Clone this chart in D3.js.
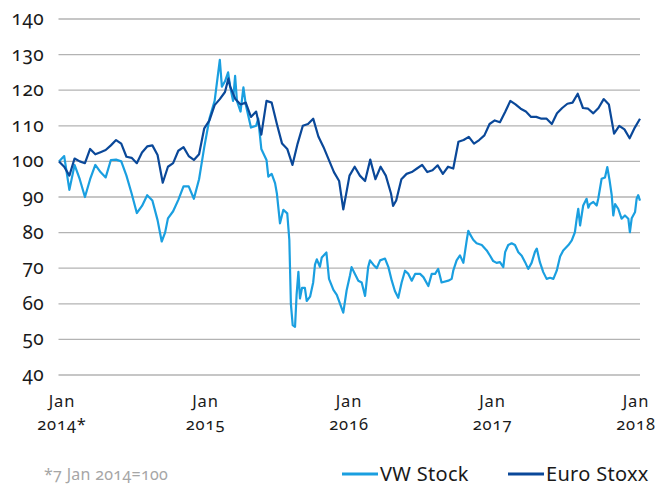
<!DOCTYPE html>
<html>
<head>
<meta charset="utf-8">
<script src="https://cdn.jsdelivr.net/npm/d3@7"></script>
<style>
  body { margin: 0; background: #fff; }
  svg { display: block; font-family: "Noto Sans", "Open Sans", sans-serif; font-variant-numeric: oldstyle-nums; font-feature-settings: "onum" 1; }
  .grid line { stroke: #b3b3b3; stroke-width: 1.3; }
  .lbl { fill: #1a1a1a; font-size: 19px; letter-spacing: 0.4px; }
  .xlbl { fill: #1a1a1a; font-size: 16.5px; letter-spacing: 0.9px; }
</style>
</head>
<body>
<div id="graph"></div>
<script>
var width = 657, height = 486;

// weeks since 7 Jan 2014 (index = 100 on that day)
var vwWeek = [0, 2, 4, 6, 8, 10, 12, 14, 16, 18, 20, 22, 24, 26, 28, 30, 32, 34, 36, 38, 39.6, 40.9, 42, 44, 46, 48, 50, 52, 54, 56, 58, 60, 62, 62.8, 64, 65.2, 66, 67.1, 67.9, 68.6, 70, 71.1, 72, 74, 76, 76.8, 78, 80, 80.7, 82, 83.3, 84, 85.2, 86.5, 88, 88.8, 89.4, 90.1, 91, 91.6, 92.3, 92.9, 93.7, 94.8, 95.5, 96.8, 98, 98.7, 99.4, 100.6, 101.3, 103.1, 104.1, 105.8, 107.1, 108.3, 109.6, 110.9, 112.2, 112.8, 114.1, 115.4, 116.7, 118, 119.2, 119.9, 121.2, 122.5, 123.8, 125.7, 127, 128.3, 129.5, 130.8, 132.1, 133.4, 134.7, 136, 137.3, 139.2, 140.5, 142.4, 143.7, 145, 146.2, 147.5, 150.1, 151.4, 152, 153.3, 154.6, 155.9, 157.2, 157.8, 158.5, 159.7, 161, 163, 164.9, 166.2, 167.4, 168.7, 170, 171.3, 172, 173.2, 174.5, 175.8, 177.1, 178.4, 179.7, 180.9, 182.2, 183.5, 184.2, 185.4, 186.7, 188, 189.3, 190.6, 191.9, 193.2, 194.4, 196.4, 197.7, 198.9, 199.6, 200.2, 200.9, 202.1, 203.4, 204.1, 204.7, 206, 207.3, 207.9, 209.2, 210.5, 211.4, 212.2, 213.1, 213.7, 214.4, 215.6, 216.9, 218.2, 219.5, 220.1, 220.8, 222.1, 222.7, 223.3, 224];
var vwValue = [100, 101.5, 92, 99, 95, 90, 95, 99, 97, 95.5, 100.4, 100.5, 100, 96, 91, 85.5, 87.5, 90.5, 89, 83.5, 77.5, 80, 84, 86, 89.2, 93, 93, 89.5, 95, 104, 112, 117, 128.5, 121, 122.5, 125, 121, 117, 124, 117, 114, 120.8, 116, 109.5, 110, 112, 103.5, 100.4, 95.7, 96.5, 93.9, 91, 82.6, 86.4, 85.4, 78, 60, 54, 53.5, 62.5, 69, 61.5, 64.5, 64.5, 60.8, 62, 66, 71, 72.5, 70.4, 73, 74.4, 67, 63.9, 62.5, 60.1, 57.5, 63.8, 68, 70.3, 68.4, 66.5, 66, 62.2, 70.3, 72.2, 71, 70, 72.2, 72.7, 70.3, 66.5, 63.6, 61.7, 66, 69.3, 68.4, 66.5, 68.4, 68.4, 67.5, 65, 68.4, 68.4, 69.8, 66, 66.5, 67, 69.3, 72.2, 73.6, 71.5, 77.9, 80.5, 79.5, 78, 77, 76.5, 75, 73.5, 72, 71.5, 71.7, 70.3, 74.5, 76.5, 77, 76.5, 74.5, 73.5, 71.7, 69.8, 71.5, 74.6, 75.5, 71.7, 68.9, 67, 67.3, 67, 69.3, 73.3, 75, 76.5, 77.8, 80.1, 83.9, 86.7, 82, 87.6, 89.5, 87, 88, 88.6, 87.6, 89.5, 95.1, 95.5, 98.4, 95, 90.5, 84.8, 88, 86.7, 83.9, 84.8, 83.9, 80.1, 84, 85.8, 89.5, 90.5, 89];

var euWeek = [0, 2, 4, 6, 8, 10, 12, 14, 16, 18, 20, 22, 24, 26, 28, 30, 32, 34, 36, 38, 40, 42, 44, 46, 48, 50, 52, 54, 56, 58, 60, 62, 64, 65.3, 66, 68, 70, 72, 74, 76, 78, 80, 82, 84, 86, 88, 90, 92, 94, 96, 98, 100, 102, 104, 106, 108, 109.6, 111, 112, 114, 116, 118, 120, 122, 124, 126, 128, 128.8, 130, 132, 134, 136, 138, 140, 142, 144, 146, 148, 150, 152, 154, 156, 158, 160, 162, 164, 166, 168, 170, 172, 174, 176, 178, 180, 182, 184, 186, 188, 190, 192, 194, 196, 198, 200, 202, 204, 206, 208, 210, 212, 214, 216, 218, 220, 222, 224];
var euValue = [100, 98.5, 96, 100.8, 100, 99.5, 103.5, 102, 102.6, 103.2, 104.5, 106, 105, 101.3, 101, 99.5, 102.5, 104.2, 104.5, 101.8, 94, 98.5, 99.5, 103, 104, 101.5, 100.4, 102, 109.3, 111.5, 115.8, 117.5, 119.5, 123.3, 121, 117.5, 116, 116.5, 112.5, 114, 107.5, 117, 116.5, 110.5, 105, 103.5, 99, 105, 110, 110.5, 112, 107, 104, 100.5, 97, 94.5, 86.5, 92, 96, 98.5, 96, 94.5, 100.5, 95, 98.5, 96, 91, 87.5, 89, 95, 96.5, 97, 98, 99, 97, 97.5, 98.9, 96.5, 98.5, 98, 105.5, 106, 106.9, 105, 106, 107.3, 110.5, 111.5, 111, 113.9, 117, 116, 114.8, 114, 112.5, 112.5, 112, 112, 110.5, 113.5, 115, 116.2, 116.5, 119, 115, 114.8, 113.5, 115, 117.5, 116, 107.8, 110, 109, 106.5, 109.5, 112];

var yTicks = [40, 50, 60, 70, 80, 90, 100, 110, 120, 130, 140];
var xLabels = [["Jan", "2014*"], ["Jan", "2015"], ["Jan", "2016"], ["Jan", "2017"], ["Jan", "2018"]];

var vwColor = "#1a9fe0", euColor = "#0a4899";

var svg = d3.select("#graph").append("svg")
    .attr("width", width)
    .attr("height", height);

var x = d3.scaleLinear().domain([0, 224]).range([59, 640]);
var y = d3.scaleLinear().domain([40, 140]).range([375, 19]);
// the year labels sit evenly spaced under the plot
var xl = d3.scalePoint().domain(xLabels.map((d, i) => i)).range([62, 636]);

// gridlines + y labels
svg.append("g")
    .attr("class", "grid")
    .selectAll("line")
    .data(yTicks)
    .enter().append("line")
    .attr("x1", 58.5).attr("x2", 640)
    .attr("y1", d => y(d)).attr("y2", d => y(d));

svg.append("g")
    .selectAll("text")
    .data(yTicks)
    .enter().append("text")
    .attr("class", "lbl")
    .attr("x", 44)
    .attr("y", d => y(d) + 6)
    .attr("text-anchor", "end")
    .text(d => d);

// two separate rows: month, then year
var xg = svg.append("g")
    .selectAll("g")
    .data(xLabels)
    .enter().append("g")
    .attr("transform", (d, i) => "translate(" + xl(i) + ",0)");
xg.append("text").attr("class", "xlbl").attr("text-anchor", "middle").attr("y", 407).text(d => d[0]);
xg.append("text").attr("class", "xlbl").attr("text-anchor", "middle").attr("y", 430).text(d => d[1]);

var line = d3.line()
    .x(d => x(d[0]))
    .y(d => y(d[1]));

svg.append("path")
    .datum(vwWeek.map((w, i) => [w, vwValue[i]]))
    .attr("fill", "none")
    .attr("stroke", vwColor)
    .attr("stroke-width", 2.2)
    .attr("stroke-linejoin", "round")
    .attr("d", line);

svg.append("path")
    .datum(euWeek.map((w, i) => [w, euValue[i]]))
    .attr("fill", "none")
    .attr("stroke", euColor)
    .attr("stroke-width", 2.2)
    .attr("stroke-linejoin", "round")
    .attr("d", line);

// footnote
svg.append("text")
    .attr("x", 44)
    .attr("y", 480)
    .attr("fill", "#a6a6a6")
    .attr("font-size", "16px")
    .attr("letter-spacing", "0.3px")
    .text("*7 Jan 2014=100");

// legend
var legend = [
    { name: "VW Stock", color: vwColor, x: 342 },
    { name: "Euro Stoxx", color: euColor, x: 508 }
];
var lg = svg.append("g")
    .selectAll("g")
    .data(legend)
    .enter().append("g")
    .attr("transform", d => "translate(" + d.x + ",474)");
lg.append("line")
    .attr("x1", 0).attr("x2", 36)
    .attr("stroke", d => d.color)
    .attr("stroke-width", 2.8);
lg.append("text")
    .attr("x", 38)
    .attr("y", 7)
    .attr("fill", "#1a1a1a")
    .attr("font-size", "20px")
    .attr("letter-spacing", "0.3px")
    .text(d => d.name);
</script>
</body>
</html>
